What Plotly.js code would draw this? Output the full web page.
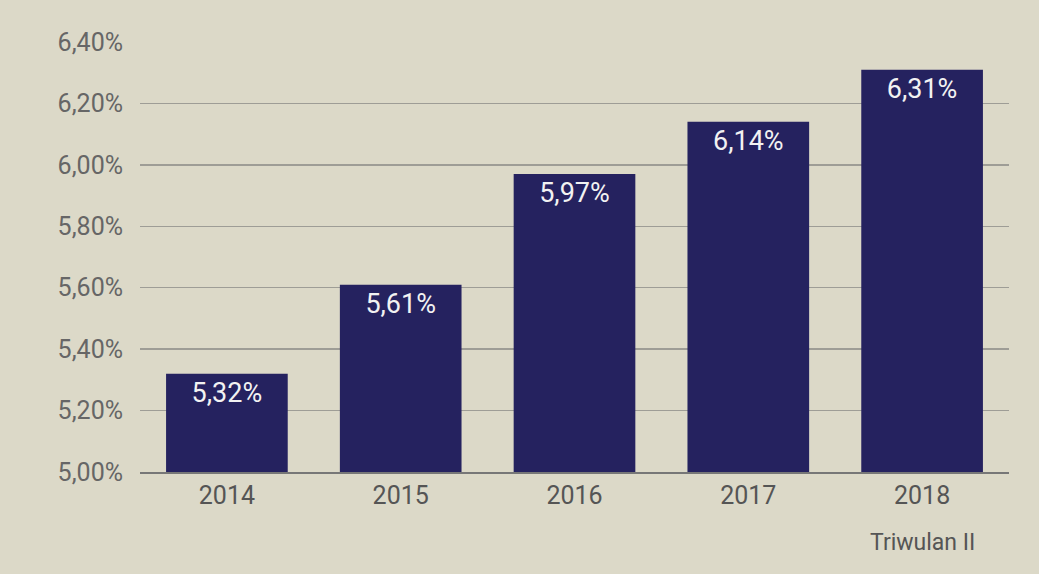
<!DOCTYPE html>
<html>
<head>
<meta charset="utf-8">
<script src="https://cdn.plot.ly/plotly-3.0.1.min.js"></script>
<style>html,body{margin:0;padding:0;background:#dcd9c8;}</style>
</head>
<body>
<div id="chart" style="width:1039px;height:574px;"></div>
<script>
const categories = ["2014", "2015", "2016", "2017", "2018"];
const subLabels = ["", "", "", "", "Triwulan II"];
const values = [5.32, 5.61, 5.97, 6.14, 6.31];
const valueLabels = ["5,32%", "5,61%", "5,97%", "6,14%", "6,31%"];
const tickValues = [5.0, 5.2, 5.4, 5.6, 5.8, 6.0, 6.2, 6.4];
const tickLabels = ["5,00%", "5,20%", "5,40%", "5,60%", "5,80%", "6,00%", "6,20%", "6,40%"];
const axisBase = 5.0;

const trace = {
  type: "bar",
  x: categories,
  y: values.map(v => v - axisBase),
  base: axisBase,
  text: valueLabels,
  textposition: "inside",
  insidetextanchor: "end",
  textangle: 0,
  textfont: {family: "Roboto, Arial, sans-serif", size: 27, color: "#f2f2f2"},
  marker: {color: "#25225f"},
  hoverinfo: "none"
};

const annotations = subLabels.map((s, i) => ({
  text: s, x: i, xref: "x", y: 0, yref: "paper",
  yshift: -70, showarrow: false, xanchor: "center", yanchor: "middle",
  font: {family: "Roboto, Arial, sans-serif", size: 23, color: "#555555"}
})).filter(a => a.text);

const layout = {
  width: 1039,
  height: 574,
  margin: {l: 140, r: 30, t: 42, b: 102},
  paper_bgcolor: "#dcd9c8",
  plot_bgcolor: "#dcd9c8",
  bargap: 0.3,
  showlegend: false,
  font: {family: "Roboto, Arial, sans-serif", color: "#666666"},
  annotations: annotations,
  xaxis: {
    type: "category",
    range: [-0.5, categories.length - 0.5],
    tickfont: {size: 25, color: "#555555"},
    showline: true,
    linecolor: "#777777",
    linewidth: 2,
    ticks: "",
    showgrid: false,
    fixedrange: true
  },
  yaxis: {
    range: [5.0, 6.4],
    tickvals: tickValues,
    ticktext: tickLabels,
    tickfont: {size: 25, color: "#666666"},
    showgrid: true,
    gridcolor: "#9e9d96",
    gridwidth: 1.5,
    zeroline: false,
    ticks: "",
    ticklabelstandoff: 16,
    fixedrange: true
  }
};

Plotly.newPlot("chart", [trace], layout, {displayModeBar: false, staticPlot: true});
</script>
</body>
</html>
